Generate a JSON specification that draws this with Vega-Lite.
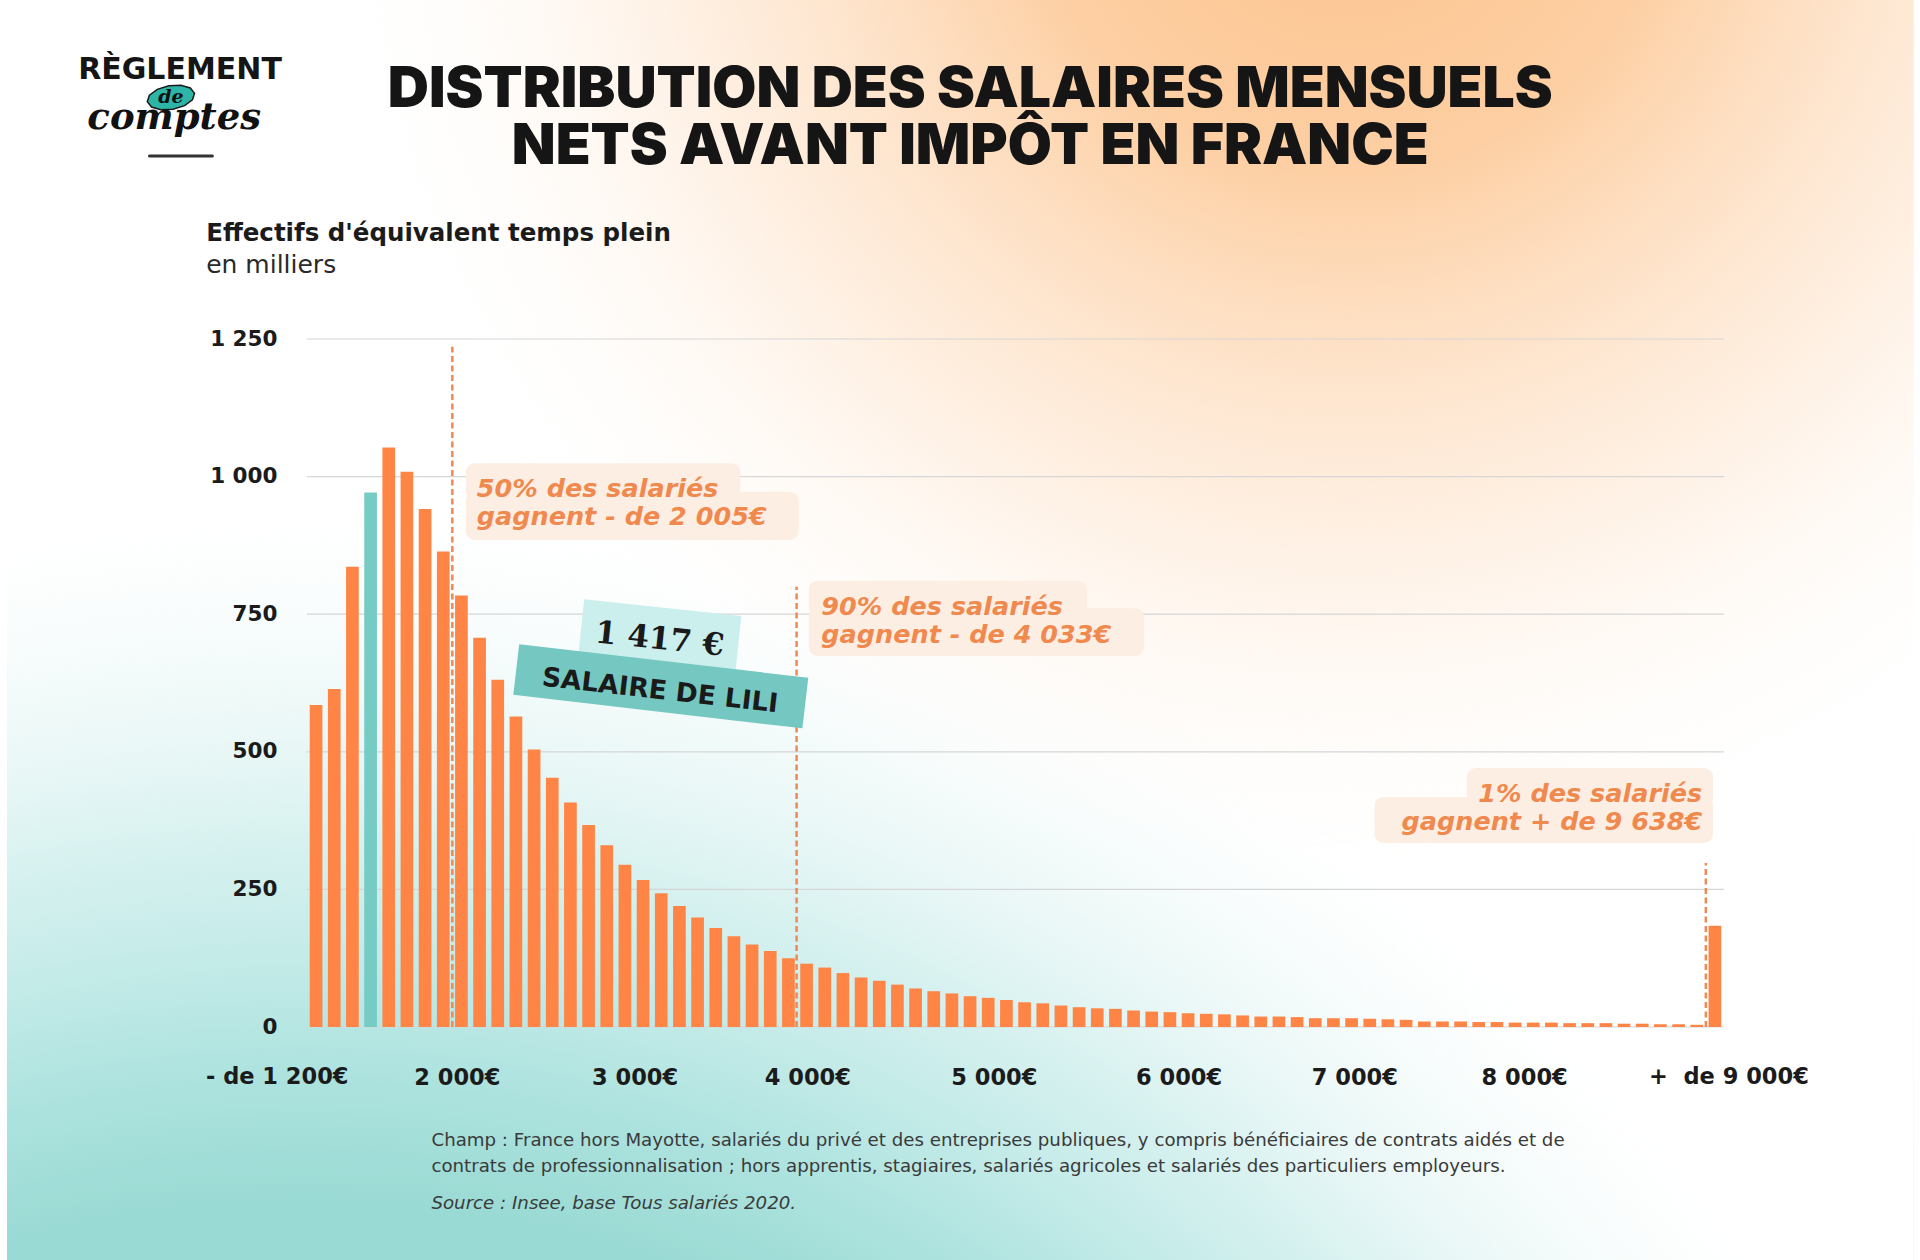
{
  "$schema": "https://vega.github.io/schema/vega-lite/v6.json",
  "width": 1427,
  "height": 688,
  "autosize": {"type": "none"},
  "padding": {"left": 302, "top": 339, "right": 191, "bottom": 233},
  "background": "#ffffff",
  "config": {"view": {"stroke": null}, "font": "DejaVu Sans"},
  "datasets": {
    "salaires": [{"i":0,"effectif":585},{"i":1,"effectif":614},{"i":2,"effectif":836},{"i":3,"effectif":971},{"i":4,"effectif":1053},{"i":5,"effectif":1009},{"i":6,"effectif":941},{"i":7,"effectif":864},{"i":8,"effectif":784},{"i":9,"effectif":707},{"i":10,"effectif":631},{"i":11,"effectif":564},{"i":12,"effectif":504},{"i":13,"effectif":453},{"i":14,"effectif":408},{"i":15,"effectif":367},{"i":16,"effectif":330},{"i":17,"effectif":295},{"i":18,"effectif":267},{"i":19,"effectif":243},{"i":20,"effectif":220},{"i":21,"effectif":199},{"i":22,"effectif":180},{"i":23,"effectif":165},{"i":24,"effectif":150},{"i":25,"effectif":138},{"i":26,"effectif":125},{"i":27,"effectif":115},{"i":28,"effectif":108},{"i":29,"effectif":98},{"i":30,"effectif":90},{"i":31,"effectif":84},{"i":32,"effectif":77},{"i":33,"effectif":70},{"i":34,"effectif":65},{"i":35,"effectif":61},{"i":36,"effectif":56},{"i":37,"effectif":53},{"i":38,"effectif":49},{"i":39,"effectif":45},{"i":40,"effectif":43},{"i":41,"effectif":39},{"i":42,"effectif":36},{"i":43,"effectif":34},{"i":44,"effectif":33},{"i":45,"effectif":30},{"i":46,"effectif":28},{"i":47,"effectif":27},{"i":48,"effectif":25},{"i":49,"effectif":24},{"i":50,"effectif":23},{"i":51,"effectif":21},{"i":52,"effectif":19},{"i":53,"effectif":19},{"i":54,"effectif":18},{"i":55,"effectif":16},{"i":56,"effectif":16},{"i":57,"effectif":16},{"i":58,"effectif":15},{"i":59,"effectif":14},{"i":60,"effectif":13},{"i":61,"effectif":10},{"i":62,"effectif":10},{"i":63,"effectif":10},{"i":64,"effectif":9},{"i":65,"effectif":9},{"i":66,"effectif":8},{"i":67,"effectif":8},{"i":68,"effectif":8},{"i":69,"effectif":7},{"i":70,"effectif":7},{"i":71,"effectif":7},{"i":72,"effectif":6},{"i":73,"effectif":6},{"i":74,"effectif":5},{"i":75,"effectif":5},{"i":76,"effectif":4},{"i":77,"effectif":184}],
    "fond": [{"x0": -17.02, "x1": 87.95, "y0": -424, "y1": 1866}],
    "grille": [{"g":0,"x0":-0.5,"x1":77.5},{"g":250,"x0":-0.5,"x1":77.5},{"g":500,"x0":-0.5,"x1":77.5},{"g":750,"x0":-0.5,"x1":77.5},{"g":1000,"x0":-0.5,"x1":77.5},{"g":1250,"x0":-0.5,"x1":77.5}],
    "seuils": [{"seuil":"50%","pos":7.5,"bas":0,"haut":1236},{"seuil":"90%","pos":26.45,"bas":0,"haut":800},{"seuil":"99%","pos":76.5,"bas":0,"haut":298}],
    "boites": [
      {"x0": 8.246, "x1": 23.354, "y0": 1024.2, "y1": 957.5},
      {"x0": 8.246, "x1": 26.567, "y0": 972.6, "y1": 884.8},
      {"x0": 27.12, "x1": 42.43, "y0": 810.9, "y1": 745.5},
      {"x0": 27.12, "x1": 45.57, "y0": 760.7, "y1": 674.1},
      {"x0": 63.34, "x1": 76.9, "y0": 470.6, "y1": 399.7},
      {"x0": 58.26, "x1": 76.9, "y0": 417.9, "y1": 334.3}
    ]
  },
  "layer": [
    {
      "data": {"name": "fond"},
      "mark": {"type": "rect", "strokeWidth": 0, "fill": {"gradient": "radial", "x1": 0.156, "y1": 1.37, "r1": 0, "x2": 0.156, "y2": 1.37, "r2": 0.95, "stops": [{"offset": 0, "color": "#94D7D1"}, {"offset": 0.6, "color": "#9ADAD4"}, {"offset": 0.68, "color": "#B0E4E0"}, {"offset": 0.8, "color": "rgba(205,238,236,0.8)"}, {"offset": 0.92, "color": "rgba(236,248,247,0.4)"}, {"offset": 1, "color": "rgba(255,255,255,0)"}]}},
      "encoding": {
        "x": {"field": "x0", "type": "quantitative"},
        "x2": {"field": "x1"},
        "y": {"field": "y0", "type": "quantitative"},
        "y2": {"field": "y1"}
      }
    },
    {
      "data": {"name": "fond"},
      "mark": {"type": "rect", "strokeWidth": 0, "fill": {"gradient": "radial", "x1": 0.703, "y1": 0.094, "r1": 0, "x2": 0.703, "y2": 0.094, "r2": 0.55, "stops": [{"offset": 0, "color": "#FCC28C"}, {"offset": 0.3, "color": "#FDCFA3"}, {"offset": 0.65, "color": "rgba(254,230,208,0.6)"}, {"offset": 1, "color": "rgba(255,255,255,0)"}]}},
      "encoding": {
        "x": {"field": "x0", "type": "quantitative"},
        "x2": {"field": "x1"},
        "y": {"field": "y0", "type": "quantitative"},
        "y2": {"field": "y1"}
      }
    },
    {
      "data": {"name": "grille"},
      "mark": {"type": "rule", "color": "#D6D6D6", "strokeWidth": 1.2},
      "encoding": {
        "y": {"field": "g", "type": "quantitative"},
        "x": {"field": "x0", "type": "quantitative"},
        "x2": {"field": "x1"}
      }
    },
    {
      "data": {"name": "salaires"},
      "mark": {"type": "bar", "orient": "vertical", "width": 12.7},
      "encoding": {
        "x": {
          "field": "i", "type": "quantitative",
          "scale": {"domain": [-0.5, 77.5], "nice": false, "zero": false},
          "axis": {
            "title": null, "domain": false, "ticks": false, "tickSize": 0, "grid": false, "zindex": 1,
            "values": [7.75, 17.53, 27.04, 37.31, 47.48, 57.15, 66.5],
            "labelExpr": "datum.value < 10 ? '2 000€' : datum.value < 20 ? '3 000€' : datum.value < 30 ? '4 000€' : datum.value < 40 ? '5 000€' : datum.value < 50 ? '6 000€' : datum.value < 60 ? '7 000€' : '8 000€'",
            "labelFlush": false, "labelOverlap": false,
            "labelPadding": 57, "labelBaseline": "alphabetic",
            "labelFont": "DejaVu Sans", "labelFontWeight": "bold", "labelFontSize": 22.5, "labelColor": "#1b1b1b"
          }
        },
        "y": {
          "field": "effectif", "type": "quantitative",
          "scale": {"domain": [0, 1250], "nice": false},
          "axis": {
            "title": null, "domain": false, "ticks": false, "tickSize": 0, "grid": false, "zindex": 1,
            "values": [0, 250, 500, 750, 1000, 1250],
            "labelExpr": "replace(format(datum.value, ','), ',', ' ')",
            "labelPadding": 25, "labelFont": "DejaVu Sans", "labelFontWeight": "bold", "labelFontSize": 21.5, "labelColor": "#1b1b1b"
          }
        },
        "color": {"condition": {"test": "datum.i === 3", "value": "#76CBC4"}, "value": "#FF8547"}
      }
    },
    {
      "data": {"name": "seuils"},
      "mark": {"type": "rule", "color": "#EE8A55", "strokeWidth": 2.5, "strokeDash": [6, 3.5]},
      "encoding": {
        "x": {"field": "pos", "type": "quantitative"},
        "y": {"field": "bas", "type": "quantitative"},
        "y2": {"field": "haut"}
      }
    },
    {
      "data": {"name": "boites"},
      "mark": {"type": "rect", "color": "#FDEEE4", "cornerRadius": 9},
      "encoding": {
        "x": {"field": "x0", "type": "quantitative"},
        "x2": {"field": "x1"},
        "y": {"field": "y0", "type": "quantitative"},
        "y2": {"field": "y1"}
      }
    },
    {"data": {"values": [{"x": -2.14, "y": -103.6}]},
     "mark": {"type": "text", "text": "- de 1 200€", "align": "center", "baseline": "alphabetic", "font": "DejaVu Sans", "fontWeight": "bold", "fontSize": 22.5, "color": "#1b1b1b"},
     "encoding": {"x": {"field": "x", "type": "quantitative"}, "y": {"field": "y", "type": "quantitative"}}},
    {"data": {"values": [{"x": 77.77, "y": -103.6}]},
     "mark": {"type": "text", "text": "+\u00a0 de 9 000€", "align": "center", "baseline": "alphabetic", "font": "DejaVu Sans", "fontWeight": "bold", "fontSize": 22.5, "color": "#1b1b1b"},
     "encoding": {"x": {"field": "x", "type": "quantitative"}, "y": {"field": "y", "type": "quantitative"}}},
    {"data": {"values": [{"x": 8.847, "y": 963.5}]},
     "mark": {"type": "text", "text": ["50% des salariés", "gagnent - de 2 005€"], "lineHeight": 28, "align": "left", "baseline": "alphabetic", "font": "DejaVu Sans", "fontStyle": "italic", "fontWeight": "bold", "fontSize": 25.5, "color": "#F0894E"},
     "encoding": {"x": {"field": "x", "type": "quantitative"}, "y": {"field": "y", "type": "quantitative"}}},
    {"data": {"values": [{"x": 27.814, "y": 748.6}]},
     "mark": {"type": "text", "text": ["90% des salariés", "gagnent - de 4 033€"], "lineHeight": 28, "align": "left", "baseline": "alphabetic", "font": "DejaVu Sans", "fontStyle": "italic", "fontWeight": "bold", "fontSize": 25.5, "color": "#F0894E"},
     "encoding": {"x": {"field": "x", "type": "quantitative"}, "y": {"field": "y", "type": "quantitative"}}},
    {"data": {"values": [{"x": 76.3, "y": 408.8}]},
     "mark": {"type": "text", "text": ["1% des salariés", "gagnent + de 9 638€"], "lineHeight": 28, "align": "right", "baseline": "alphabetic", "font": "DejaVu Sans", "fontStyle": "italic", "fontWeight": "bold", "fontSize": 25.5, "color": "#F0894E"},
     "encoding": {"x": {"field": "x", "type": "quantitative"}, "y": {"field": "y", "type": "quantitative"}}},
    {"data": {"values": [{"x": 18.904, "y": 706.0}]},
     "mark": {"type": "point", "shape": "M-1,-0.392L1,-0.392L1,0.392L-1,0.392Z", "filled": true, "size": 24964, "angle": 6, "color": "#CBEFEC", "opacity": 1, "strokeWidth": 0},
     "encoding": {"x": {"field": "x", "type": "quantitative"}, "y": {"field": "y", "type": "quantitative"}}},
    {"data": {"values": [{"x": 18.904, "y": 703.1}]},
     "mark": {"type": "text", "text": "1 417 €", "angle": 6, "align": "center", "baseline": "middle", "font": "DejaVu Serif", "fontWeight": "bold", "fontSize": 31, "color": "#1a1a1a"},
     "encoding": {"x": {"field": "x", "type": "quantitative"}, "y": {"field": "y", "type": "quantitative"}}},
    {"data": {"values": [{"x": 18.975, "y": 619.0}]},
     "mark": {"type": "point", "shape": "M-1,-0.175L1,-0.175L1,0.175L-1,0.175Z", "filled": true, "size": 84681, "angle": 6.6, "color": "#74C8C1", "opacity": 1, "strokeWidth": 0},
     "encoding": {"x": {"field": "x", "type": "quantitative"}, "y": {"field": "y", "type": "quantitative"}}},
    {"data": {"values": [{"x": 18.93, "y": 610.5}]},
     "mark": {"type": "text", "text": "SALAIRE DE LILI", "angle": 6.5, "align": "center", "baseline": "middle", "font": "DejaVu Sans", "fontWeight": "bold", "fontSize": 26.5, "color": "#1a1a1a"},
     "encoding": {"x": {"field": "x", "type": "quantitative"}, "y": {"field": "y", "type": "quantitative"}}},
    {"data": {"values": [{"x": 36.01, "y": 1671.0}]},
     "mark": {"type": "text", "text": ["DISTRIBUTION DES SALAIRES MENSUELS", "NETS AVANT IMPÔT EN FRANCE"], "lineHeight": 57, "align": "center", "baseline": "alphabetic", "font": "Inter", "fontWeight": 900, "fontSize": 57, "color": "#151515"},
     "encoding": {"x": {"field": "x", "type": "quantitative"}, "y": {"field": "y", "type": "quantitative"}}},
    {"data": {"values": [{"x": -7.99, "y": 1688.8}]},
     "mark": {"type": "point", "shape": "M1,0L0.866,0.25L0.5,0.433L0,0.5L-0.5,0.433L-0.866,0.25L-1,0L-0.866,-0.25L-0.5,-0.433L0,-0.5L0.5,-0.433L0.866,-0.25Z", "filled": true, "size": 2304, "angle": -10, "fill": "#2DB5A8", "stroke": "#1a1a1a", "strokeWidth": 1.5, "opacity": 1},
     "encoding": {"x": {"field": "x", "type": "quantitative"}, "y": {"field": "y", "type": "quantitative"}}},
    {"data": {"values": [{"x": -7.99, "y": 1690.5}]},
     "mark": {"type": "text", "text": "de", "align": "center", "baseline": "middle", "font": "DejaVu Serif", "fontStyle": "italic", "fontWeight": "bold", "fontSize": 19, "color": "#111111"},
     "encoding": {"x": {"field": "x", "type": "quantitative"}, "y": {"field": "y", "type": "quantitative"}}},
    {"data": {"values": [{"x": -7.49, "y": 1721.9}]},
     "mark": {"type": "text", "text": "RÈGLEMENT", "align": "center", "baseline": "alphabetic", "font": "DejaVu Sans", "fontWeight": "bold", "fontSize": 30, "color": "#151515"},
     "encoding": {"x": {"field": "x", "type": "quantitative"}, "y": {"field": "y", "type": "quantitative"}}},
    {"data": {"values": [{"x": -7.81, "y": 1631.1}]},
     "mark": {"type": "text", "text": "comptes", "align": "center", "baseline": "alphabetic", "font": "DejaVu Serif", "fontStyle": "italic", "fontWeight": "bold", "fontSize": 37, "color": "#111111"},
     "encoding": {"x": {"field": "x", "type": "quantitative"}, "y": {"field": "y", "type": "quantitative"}}},
    {"data": {"values": [{"x0": -9.17, "x1": -5.71, "y": 1582.5}]},
     "mark": {"type": "rule", "color": "#333333", "strokeWidth": 3, "strokeCap": "round"},
     "encoding": {"x": {"field": "x0", "type": "quantitative"}, "x2": {"field": "x1"}, "y": {"field": "y", "type": "quantitative"}}},
    {"data": {"values": [{"x": -6.05, "y": 1428.6}]},
     "mark": {"type": "text", "text": "Effectifs d'équivalent temps plein", "align": "left", "baseline": "alphabetic", "font": "DejaVu Sans", "fontWeight": "bold", "fontSize": 24.5, "color": "#1b1b1b"},
     "encoding": {"x": {"field": "x", "type": "quantitative"}, "y": {"field": "y", "type": "quantitative"}}},
    {"data": {"values": [{"x": -6.05, "y": 1369.9}]},
     "mark": {"type": "text", "text": "en milliers", "align": "left", "baseline": "alphabetic", "font": "DejaVu Sans", "fontWeight": "normal", "fontSize": 25, "color": "#2a2a2a"},
     "encoding": {"x": {"field": "x", "type": "quantitative"}, "y": {"field": "y", "type": "quantitative"}}},
    {"data": {"values": [{"x": 6.35, "y": -216.2}]},
     "mark": {"type": "text", "text": ["Champ : France hors Mayotte, salariés du privé et des entreprises publiques, y compris bénéficiaires de contrats aidés et de", "contrats de professionnalisation ; hors apprentis, stagiaires, salariés agricoles et salariés des particuliers employeurs."], "lineHeight": 26.5, "align": "left", "baseline": "alphabetic", "font": "DejaVu Sans", "fontWeight": "normal", "fontSize": 18.2, "color": "#3a3a3a"},
     "encoding": {"x": {"field": "x", "type": "quantitative"}, "y": {"field": "y", "type": "quantitative"}}},
    {"data": {"values": [{"x": 6.35, "y": -330.7}]},
     "mark": {"type": "text", "text": "Source : Insee, base Tous salariés 2020.", "align": "left", "baseline": "alphabetic", "font": "DejaVu Sans", "fontStyle": "italic", "fontWeight": "normal", "fontSize": 18.2, "color": "#3a3a3a"},
     "encoding": {"x": {"field": "x", "type": "quantitative"}, "y": {"field": "y", "type": "quantitative"}}}
  ]
}
